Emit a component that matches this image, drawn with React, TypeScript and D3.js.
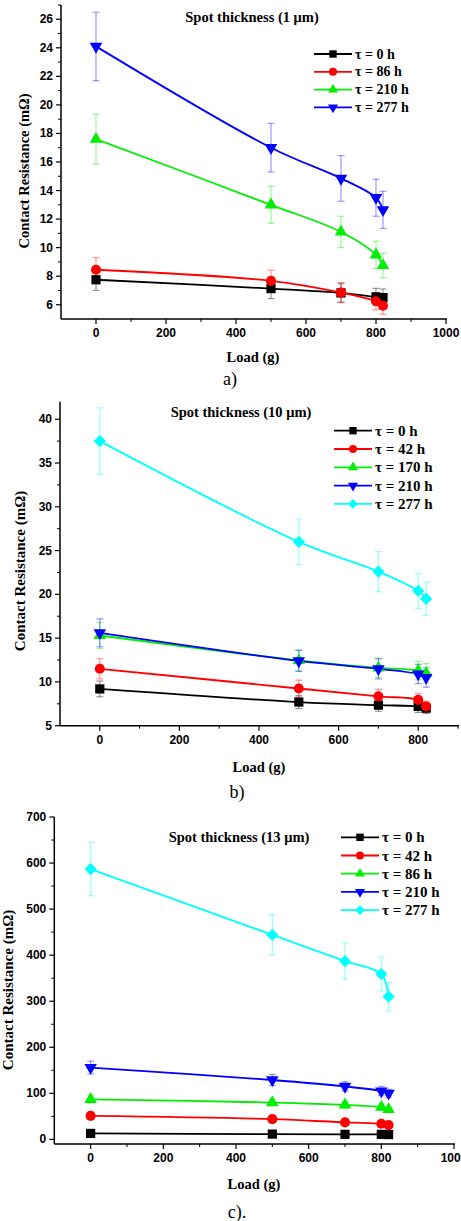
import React from "react";
import * as d3 from "d3";

// ---------- data ----------
const loads = [0, 500, 700, 800, 820];

// Panel a: spot thickness 1 µm
const aLabels = ["τ = 0 h", "τ = 86 h", "τ = 210 h", "τ = 277 h"];
const aT0 = [7.75, 7.13, 6.83, 6.55, 6.5];
const aT0Err = [0.75, 0.7, 0.65, 0.6, 0.6];
const aT86 = [8.45, 7.67, 6.85, 6.24, 5.93];
const aT86Err = [0.85, 0.75, 0.7, 0.6, 0.6];
const aT210 = [17.6, 13.0, 11.1, 9.5, 8.75];
const aT210Err = [1.75, 1.3, 1.1, 0.95, 0.85];
const aT277 = [24.1, 17.0, 14.85, 13.5, 12.65];
const aT277Err = [2.4, 1.7, 1.6, 1.3, 1.3];
const aXTicks = [0, 200, 400, 600, 800, 1000];
const aYTicks = [6, 8, 10, 12, 14, 16, 18, 20, 22, 24, 26];

// Panel b: spot thickness 10 µm
const bLabels = ["τ = 0 h", "τ = 42 h", "τ = 170 h", "τ = 210 h", "τ = 277 h"];
const bT0 = [9.2, 7.7, 7.35, 7.2, 7.0];
const bT0Err = [0.9, 0.75, 0.7, 0.7, 0.6];
const bT42 = [11.5, 9.25, 8.35, 7.95, 7.2];
const bT42Err = [1.15, 0.95, 0.8, 0.75, 0.6];
const bT170 = [15.3, 12.45, 11.6, 11.3, 11.0];
const bT170Err = [1.5, 1.2, 1.1, 1.05, 1.1];
const bT210 = [15.6, 12.4, 11.5, 10.9, 10.5];
const bT210Err = [1.6, 1.2, 1.15, 1.1, 1.1];
const bT277 = [37.5, 26.0, 22.6, 20.4, 19.5];
const bT277Err = [3.8, 2.6, 2.3, 2.0, 1.9];
const bXTicks = [0, 200, 400, 600, 800];
const bYTicks = [5, 10, 15, 20, 25, 30, 35, 40];

// Panel c: spot thickness 13 µm
const cLabels = ["τ = 0 h", "τ = 42 h", "τ = 86 h", "τ = 210 h", "τ = 277 h"];
const cT0 = [13, 11.5, 11, 11, 10.5];
const cT0Err = [3, 3, 3, 3, 3];
const cT42 = [51, 44, 37, 34, 31];
const cT42Err = [5, 5, 4, 4, 4];
const cT86 = [87, 80, 75, 70, 65];
const cT86Err = [8, 7, 7, 7, 6];
const cT210 = [156, 129, 115, 105, 100];
const cT210Err = [14, 12, 10, 10, 9];
const cT277 = [587, 444, 387, 359, 310];
const cT277Err = [58, 44, 39, 37, 31];
const cXTicks = [0, 200, 400, 600, 800, 1000];
const cYTicks = [0, 100, 200, 300, 400, 500, 600, 700];

// ---------- styles ----------
const BLACK = "#000000";
const RED = "#ff0000";
const GREEN = "#00ee00";
const BLUE = "#0000ff";
const CYAN = "#00ffff";

type Shape = "square" | "circle" | "up" | "down" | "diamond";

interface Series {
  label: string;
  values: number[];
  errors: number[];
  color: string;
  shape: Shape;
}

interface PanelCfg {
  series: Series[];
  xDomain: [number, number];
  yDomain: [number, number];
  xRange: [number, number];
  yRange: [number, number];
  xTicks: number[];
  yTicks: number[];
  xMinorStep: number;
  yMinorStep: number;
  title: string;
  titlePos: [number, number];
  legendX: number;
  legendY: number;
  legendStep: number;
  legendFont: number;
  yLabelPos: [number, number];
  yLabelFont: number;
  xLabelPos: [number, number];
  caption: string;
  captionPos: [number, number];
}

const panels: PanelCfg[] = [
  {
    series: [
      { label: aLabels[0], values: aT0, errors: aT0Err, color: BLACK, shape: "square" },
      { label: aLabels[1], values: aT86, errors: aT86Err, color: RED, shape: "circle" },
      { label: aLabels[2], values: aT210, errors: aT210Err, color: GREEN, shape: "up" },
      { label: aLabels[3], values: aT277, errors: aT277Err, color: BLUE, shape: "down" },
    ],
    xDomain: [-100, 1000],
    yDomain: [5, 27],
    xRange: [61, 446],
    yRange: [319, 5],
    xTicks: aXTicks,
    yTicks: aYTicks,
    xMinorStep: 100,
    yMinorStep: 1,
    title: "Spot thickness (1 μm)",
    titlePos: [252, 17],
    legendX: 314,
    legendY: 54,
    legendStep: 17.8,
    legendFont: 14,
    yLabelPos: [24, 171],
    yLabelFont: 14.5,
    xLabelPos: [253, 357],
    caption: "a)",
    captionPos: [230, 379],
  },
  {
    series: [
      { label: bLabels[0], values: bT0, errors: bT0Err, color: BLACK, shape: "square" },
      { label: bLabels[1], values: bT42, errors: bT42Err, color: RED, shape: "circle" },
      { label: bLabels[2], values: bT170, errors: bT170Err, color: GREEN, shape: "up" },
      { label: bLabels[3], values: bT210, errors: bT210Err, color: BLUE, shape: "down" },
      { label: bLabels[4], values: bT277, errors: bT277Err, color: CYAN, shape: "diamond" },
    ],
    xDomain: [-100, 900],
    yDomain: [5, 42],
    xRange: [60, 458],
    yRange: [725.7, 401.7],
    xTicks: bXTicks,
    yTicks: bYTicks,
    xMinorStep: 100,
    yMinorStep: 2.5,
    title: "Spot thickness (10 μm)",
    titlePos: [241, 412],
    legendX: 334,
    legendY: 430.7,
    legendStep: 18.3,
    legendFont: 15,
    yLabelPos: [20, 571],
    yLabelFont: 15,
    xLabelPos: [259, 767],
    caption: "b)",
    captionPos: [237, 792],
  },
  {
    series: [
      { label: cLabels[0], values: cT0, errors: cT0Err, color: BLACK, shape: "square" },
      { label: cLabels[1], values: cT42, errors: cT42Err, color: RED, shape: "circle" },
      { label: cLabels[2], values: cT86, errors: cT86Err, color: GREEN, shape: "up" },
      { label: cLabels[3], values: cT210, errors: cT210Err, color: BLUE, shape: "down" },
      { label: cLabels[4], values: cT277, errors: cT277Err, color: CYAN, shape: "diamond" },
    ],
    xDomain: [-100, 1000],
    yDomain: [-10, 700],
    xRange: [54.3, 454],
    yRange: [1144, 817],
    xTicks: cXTicks,
    yTicks: cYTicks,
    xMinorStep: 100,
    yMinorStep: 50,
    title: "Spot thickness (13 μm)",
    titlePos: [239, 837],
    legendX: 341,
    legendY: 837.3,
    legendStep: 18.2,
    legendFont: 15,
    yLabelPos: [8, 990],
    yLabelFont: 15,
    xLabelPos: [254, 1184],
    caption: "c).",
    captionPos: [237, 1212],
  },
];

const SERIF = "'Liberation Serif', 'Times New Roman', serif";
const SANS = "'Liberation Sans', Arial, sans-serif";

function markerPath(shape: Shape, scale = 1): { d: string; rot: number } {
  let sym: d3.SymbolType = d3.symbolSquare;
  let size = 85;
  let rot = 0;
  if (shape === "circle") {
    sym = d3.symbolCircle;
    size = 80;
  } else if (shape === "up") {
    sym = d3.symbolTriangle;
    size = 68;
  } else if (shape === "down") {
    sym = d3.symbolTriangle;
    size = 68;
    rot = 180;
  } else if (shape === "diamond") {
    sym = d3.symbolSquare;
    size = 76;
    rot = 45;
  }
  const d = d3.symbol().type(sym).size(size * scale * scale)() as string;
  return { d, rot };
}

function Panel({ cfg }: { cfg: PanelCfg }) {
  const x = d3.scaleLinear().domain(cfg.xDomain).range(cfg.xRange);
  const y = d3.scaleLinear().domain(cfg.yDomain).range(cfg.yRange);
  const line = d3
    .line<number>()
    .x((_, i) => x(loads[i]))
    .y((v) => y(v))
    .curve(d3.curveCatmullRom.alpha(0.5));

  const xMinor = d3
    .range(cfg.xDomain[0], cfg.xDomain[1] + 0.001, cfg.xMinorStep)
    .filter((v) => !cfg.xTicks.includes(v) && v > cfg.xDomain[0]);
  const yMinor = d3
    .range(cfg.yTicks[0] - cfg.yMinorStep * 10, cfg.yDomain[1] + 0.001, cfg.yMinorStep)
    .filter(
      (v) =>
        v > cfg.yDomain[0] + 1e-6 &&
        v <= cfg.yDomain[1] &&
        !cfg.yTicks.some((t) => Math.abs(t - v) < 1e-6)
    );

  const x0 = cfg.xRange[0];
  const x1 = cfg.xRange[1] + 1;
  const yb = cfg.yRange[0];
  const yt = cfg.yRange[1];

  return (
    <g>
      {/* axes */}
      <line x1={x0} x2={x0} y1={yt} y2={yb} stroke="#000" strokeWidth={1.5} />
      <line x1={x0} x2={x1} y1={yb} y2={yb} stroke="#000" strokeWidth={1.5} />
      {cfg.yTicks.map((t) => (
        <g key={"yt" + t}>
          <line x1={x0 - 5} x2={x0} y1={y(t)} y2={y(t)} stroke="#000" strokeWidth={1.2} />
          <text
            x={x0 - 8}
            y={y(t)}
            textAnchor="end"
            dominantBaseline="central"
            fontFamily={SANS}
            fontWeight="bold"
            fontSize={12}
          >
            {t}
          </text>
        </g>
      ))}
      {yMinor.map((t) => (
        <line key={"ym" + t} x1={x0 - 3} x2={x0} y1={y(t)} y2={y(t)} stroke="#000" strokeWidth={1} />
      ))}
      {cfg.xTicks.map((t) => (
        <g key={"xt" + t}>
          <line x1={x(t)} x2={x(t)} y1={yb} y2={yb + 5} stroke="#000" strokeWidth={1.2} />
          <text
            x={x(t)}
            y={yb + 18}
            textAnchor="middle"
            fontFamily={SANS}
            fontWeight="bold"
            fontSize={12}
          >
            {t}
          </text>
        </g>
      ))}
      {xMinor.map((t) => (
        <line key={"xm" + t} x1={x(t)} x2={x(t)} y1={yb} y2={yb + 3} stroke="#000" strokeWidth={1} />
      ))}

      {/* error bars */}
      {cfg.series.map((s, si) => (
        <g key={"err" + si} stroke={s.color} strokeOpacity={0.4} strokeWidth={1.2}>
          {s.values.map((v, i) => {
            const cx = x(loads[i]);
            const hi = y(v + s.errors[i]);
            const lo = y(v - s.errors[i]);
            return (
              <g key={i}>
                <line x1={cx} x2={cx} y1={hi} y2={lo} />
                <line x1={cx - 3.5} x2={cx + 3.5} y1={hi} y2={hi} />
                <line x1={cx - 3.5} x2={cx + 3.5} y1={lo} y2={lo} />
              </g>
            );
          })}
        </g>
      ))}

      {/* lines */}
      {cfg.series.map((s, si) => (
        <path
          key={"ln" + si}
          d={line(s.values) as string}
          fill="none"
          stroke={s.color}
          strokeWidth={1.8}
        />
      ))}

      {/* markers */}
      {cfg.series.map((s, si) => {
        const m = markerPath(s.shape);
        return (
          <g key={"mk" + si} fill={s.color}>
            {s.values.map((v, i) => (
              <path
                key={i}
                d={m.d}
                transform={`translate(${x(loads[i])},${y(v)}) rotate(${m.rot})`}
              />
            ))}
          </g>
        );
      })}

      {/* title */}
      <text
        x={cfg.titlePos[0]}
        y={cfg.titlePos[1]}
        textAnchor="middle"
        dominantBaseline="central"
        fontFamily={SERIF}
        fontWeight="bold"
        fontSize={14.5}
      >
        {cfg.title}
      </text>

      {/* legend */}
      {cfg.series.map((s, si) => {
        const ly = cfg.legendY + si * cfg.legendStep;
        const m = markerPath(s.shape, 0.8);
        return (
          <g key={"lg" + si}>
            <line x1={cfg.legendX} x2={cfg.legendX + 38} y1={ly} y2={ly} stroke={s.color} strokeWidth={1.8} />
            <path
              d={m.d}
              fill={s.color}
              transform={`translate(${cfg.legendX + 19},${ly}) rotate(${m.rot})`}
            />
            <text
              x={cfg.legendX + 41}
              y={ly}
              dominantBaseline="central"
              fontFamily={SERIF}
              fontWeight="bold"
              fontSize={cfg.legendFont}
            >
              {s.label}
            </text>
          </g>
        );
      })}

      {/* axis labels */}
      <text
        transform={`translate(${cfg.yLabelPos[0]},${cfg.yLabelPos[1]}) rotate(-90)`}
        textAnchor="middle"
        dominantBaseline="central"
        fontFamily={SERIF}
        fontWeight="bold"
        fontSize={cfg.yLabelFont}
      >
        Contact Resistance (mΩ)
      </text>
      <text
        x={cfg.xLabelPos[0]}
        y={cfg.xLabelPos[1]}
        textAnchor="middle"
        dominantBaseline="central"
        fontFamily={SERIF}
        fontWeight="bold"
        fontSize={14.5}
      >
        Load (g)
      </text>
      <text
        x={cfg.captionPos[0]}
        y={cfg.captionPos[1]}
        textAnchor="middle"
        dominantBaseline="central"
        fontFamily={SERIF}
        fontSize={18}
      >
        {cfg.caption}
      </text>
    </g>
  );
}

export default function App() {
  return (
    <>
      <style>{`body{margin:0;background:#fff}`}</style>
      <svg width={461} height={1221} style={{ display: "block", background: "#fff" }}>
        {panels.map((p, i) => (
          <Panel key={i} cfg={p} />
        ))}
      </svg>
    </>
  );
}
